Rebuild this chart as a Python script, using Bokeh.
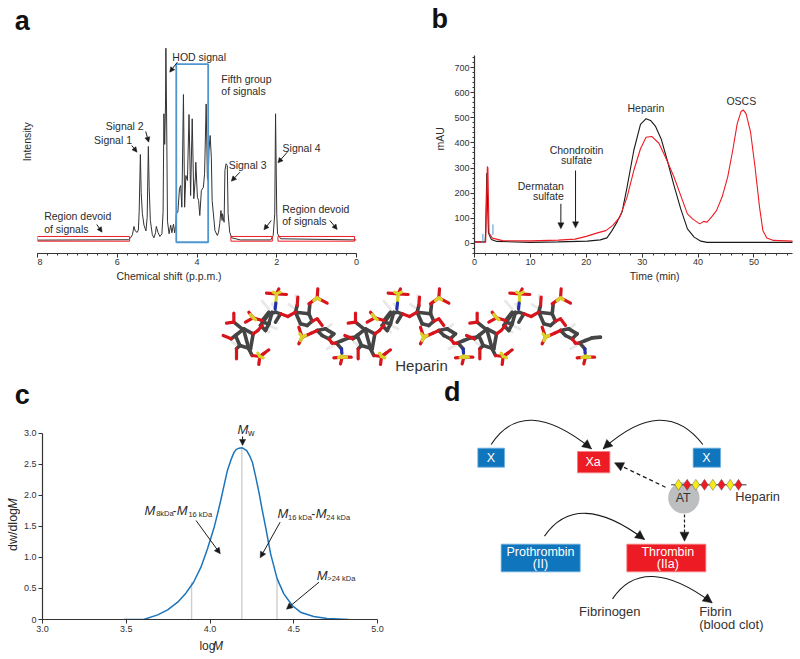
from bokeh.plotting import figure
from bokeh.layouts import column, row
from bokeh.models import (Range1d, Label, Arrow, NormalHead, SingleIntervalTicker, FixedTicker,
                          NumeralTickFormatter)
from bokeh.embed import file_html
from bokeh.resources import INLINE

FONT = "Liberation Sans"
INK = "#2b2b2b"
RED = "#ed1c24"
BLUE = "#0f75bc"

# ---- panel a: NMR spectrum
nmr_ppm = [8.00, 5.72, 5.66, 5.62, 5.58, 5.55, 5.50, 5.47, 5.45, 5.42, 5.40, 5.37, 5.33, 5.28, 5.25, 5.22, 5.20,
           5.17, 5.12, 5.08, 5.04, 5.02, 4.98, 4.93, 4.88, 4.85, 4.83, 4.81, 4.79, 4.78, 4.76, 4.74, 4.70, 4.66,
           4.63, 4.59, 4.56, 4.53, 4.52, 4.48, 4.44, 4.41, 4.38, 4.34, 4.31, 4.28, 4.24, 4.20, 4.16, 4.12, 4.08,
           4.04, 4.03, 3.99, 3.96, 3.93, 3.89, 3.84, 3.81, 3.77, 3.74, 3.72, 3.70, 3.67, 3.64, 3.62, 3.55, 3.49,
           3.46, 3.43, 3.40, 3.37, 3.36, 3.32, 3.30, 3.27, 3.24, 3.22, 3.18, 3.13, 2.91, 2.15, 2.09, 2.05, 2.03,
           2.00, 1.98, 1.90, 0.00]
nmr_int = [0.2, 0.4, 1.5, 3.0, 7.3, 5.0, 4.2, 5.5, 15, 44.7, 25, 14, 8, 5, 12, 48.9, 28,
           10.4, 3.0, 1.4, 4.0, 7.3, 4.3, 2.1, 3.5, 15, 65.9, 50, 70, 100, 60, 10, 3.5, 8,
           4.0, 8.5, 4.0, 8.0, 13.9, 14.7, 26.9, 28.6, 17.3, 75.9, 17.3, 33.8, 31.2, 65.5, 23.4, 63.3, 21.7,
           32.9, 40.7, 22.5, 20.8, 13.0, 26.0, 27.7, 34.7, 71.0, 33.0, 31.2, 46.8, 54.6, 43.0, 20.8, 5.2, 2.6,
           4.3, 8.7, 15.6, 10.4, 13.9, 9.5, 36.4, 39.9, 39.0, 13.9, 4.3, 1.4, 0.3, 0.3, 2.6, 13.9, 65.9,
           13.9, 3.5, 0.9, 0.3]
region_left = [8.00, 3.15, 1.97]
region_right = [5.69, 2.11, 0.05]
region_top = [2.1, 2.1, 2.1]
region_bottom = [-0.35, -0.35, -0.35]
group_left, group_right, group_top, group_bottom = [4.52], [3.72], [91.7], [-0.9]

# ---- panel b: chromatograms
black_t = [0, 1.9, 2.0, 2.2, 2.35, 2.5, 3, 4, 10, 15, 20.2, 22.5, 23.7, 24.6, 25.5, 26.4, 27.3, 28.5, 29.7, 30.7,
           31.5, 32.4, 33.4, 34.5, 35.7, 36.9, 38.1, 39.3, 40.5, 41.6, 57]
black_mau = [5, 5, 50, 280, 150, 40, 15, 7, 3, 5, 8, 13, 21, 50, 84, 124, 224, 370, 474, 497,
             490, 466, 416, 330, 230, 137, 57, 24, 8, 3, 3]
red_t = [0, 2.0, 2.1, 2.3, 2.4, 2.6, 3.2, 5, 10, 15, 18, 20, 22, 23.5, 24.7, 26, 27.3, 28.5, 29.7, 30.7, 31.7, 33,
         34.3, 35.7, 37, 38.1, 39, 40.3, 41, 41.6, 42.4, 43.3, 44.3, 45.3, 46.2, 47, 47.7, 48.1, 48.6, 49.4, 50.2,
         51, 51.6, 52.3, 53.5, 57]
red_mau = [4, 4, 100, 306, 300, 40, 20, 10, 9, 12, 16, 27, 41, 50, 70, 104, 184, 290, 377, 423, 426, 399,
           337, 264, 184, 117, 97, 77, 87, 84, 104, 130, 184, 264, 370, 476, 526, 532, 516, 443, 303,
           144, 51, 21, 11, 8]
inject_t = [1.5, 3.3]
inject_low = [0, 33]
inject_high = [37, 75]

# ---- panel c: molecular weight distribution
logm = [3.486, 3.608, 3.688, 3.747, 3.807, 3.856, 3.902, 3.946, 3.985, 4.025, 4.045, 4.064, 4.084, 4.104, 4.125, 4.144,
        4.158, 4.173, 4.193, 4.219, 4.236, 4.253, 4.272, 4.292, 4.312, 4.332, 4.362, 4.401, 4.441, 4.491, 4.540,
        4.619, 4.699, 4.828]
dw = [0, 0.005, 0.075, 0.156, 0.279, 0.424, 0.60, 0.843, 1.138, 1.487, 1.70, 1.916, 2.16, 2.40, 2.57, 2.695,
      2.74, 2.759, 2.764, 2.72, 2.64, 2.533, 2.31, 2.05, 1.76, 1.487, 1.057, 0.655, 0.413, 0.225, 0.118,
      0.048, 0.016, 0]
cut_x = [3.89, 4.19, 4.40]
cut_y = [0.60, 2.76, 0.65]

# ---- molecule: sticks of one repeating unit, and where the units sit
unit_shift = [0, 365, 730]
stick_grey = [(105, 165, 130, 145), (130, 145, 158, 160), (158, 160, 150, 205), (150, 205, 118, 195), (118, 195, 105, 165),
              (100, 125, 125, 145), (108, 205, 118, 195), (92, 175, 105, 165), (145, 205, 155, 225), (130, 150, 145, 205),
              (180, 135, 205, 100), (205, 100, 225, 95), (225, 95, 240, 100), (180, 135, 195, 150),
              (185, 120, 205, 95), (215, 95, 205, 130), (205, 130, 185, 125), (195, 150, 205, 130), (240, 100, 225, 125),
              (285, 95, 325, 100), (325, 100, 335, 122), (335, 122, 320, 135), (320, 135, 300, 130), (300, 130, 285, 95),
              (290, 75, 285, 95), (325, 100, 328, 72), (350, 150, 375, 145), (375, 145, 400, 160), (400, 160, 385, 175),
              (385, 175, 365, 165), (365, 165, 350, 150), (405, 188, 425, 180), (425, 180, 445, 172), (410, 190, 423, 205),
              (445, 172, 470, 170)]
stick_white = [(205, 135, 228, 145), (190, 140, 205, 155), (185, 62, 205, 85), (215, 70, 228, 90), (285, 45, 290, 60),
               (380, 205, 400, 195), (375, 145, 392, 132), (95, 185, 110, 195), (265, 72, 285, 85)]
stick_red = [(100, 98, 100, 125), (78, 128, 100, 125), (68, 165, 92, 175), (108, 235, 108, 205), (158, 160, 172, 150),
             (172, 150, 185, 135), (178, 228, 205, 208), (178, 228, 192, 218), (178, 228, 175, 252), (155, 225, 178, 228),
             (198, 38, 228, 40), (235, 25, 228, 40), (258, 42, 228, 40), (145, 95, 158, 112), (135, 125, 158, 112),
             (158, 112, 185, 120), (240, 100, 262, 108), (262, 108, 285, 95), (290, 75, 292, 50), (350, 52, 352, 25),
             (350, 52, 380, 68), (350, 52, 325, 70), (305, 170, 295, 140), (305, 170, 332, 158), (305, 170, 295, 190),
             (332, 158, 350, 150), (335, 122, 350, 115), (350, 115, 365, 135), (385, 175, 395, 188), (395, 188, 405, 188),
             (425, 230, 400, 232), (425, 230, 452, 230), (425, 230, 420, 250)]
stick_yellow = [(228, 40, 226, 68), (228, 40, 218, 35), (228, 40, 238, 35), (178, 228, 172, 218), (178, 228, 188, 232),
                (158, 112, 150, 102), (158, 112, 165, 118), (350, 52, 340, 60), (350, 52, 358, 58), (305, 170, 298, 160),
                (305, 170, 315, 165), (305, 170, 300, 180), (425, 230, 414, 231), (425, 230, 438, 230), (425, 230, 424, 218)]
stick_blue = [(226, 68, 224, 85), (423, 205, 424, 218)]

# ---- panel d: pathway
blue_boxes = [(142, 233, 222, 290), (788, 233, 870, 290), (212, 521, 449, 604)]
red_boxes = [(441, 243, 538, 307), (589, 521, 826, 604)]
curves = [(182, 222, 280, 70, 483, 235), (817, 222, 700, 70, 518, 235),
          (342, 497, 440, 355, 642, 507), (546, 685, 640, 545, 845, 697)]
beads_x = [744, 770, 796, 822, 847, 873, 899, 924]
beads_color = ["#f6eb14", RED, "#f6eb14", RED, "#f6eb14", RED, "#f6eb14", RED]


def blank(p):
    p.outline_line_color = None
    p.xgrid.visible = False
    p.ygrid.visible = False
    p.background_fill_color = None
    p.border_fill_color = None


def style_axis(ax, size="9px"):
    ax.axis_line_color = "#333333"
    ax.axis_line_width = 1.2
    ax.major_tick_line_color = "#333333"
    ax.minor_tick_line_color = "#333333"
    ax.major_tick_in = 0
    ax.minor_tick_in = 0
    ax.major_tick_out = 4
    ax.minor_tick_out = 2
    ax.major_label_text_font = FONT
    ax.major_label_text_font_size = size
    ax.major_label_text_color = "#333333"
    ax.major_label_standoff = 1


def panel(width, height, left, right, bottom, x_range, y_range):
    p = figure(width=width, height=height, x_range=Range1d(*x_range), y_range=Range1d(*y_range),
               output_backend="svg", toolbar_location=None,
               min_border_left=left, min_border_right=right, min_border_top=0, min_border_bottom=bottom)
    blank(p)
    return p


def strip(x0, x1, y0, y1):
    """A text-only figure that covers one part of the page, in page pixels."""
    p = figure(width=x1 - x0, height=y1 - y0, x_range=Range1d(x0, x1), y_range=Range1d(y1, y0),
               output_backend="svg", toolbar_location=None, min_border=0,
               x_axis_location=None, y_axis_location=None)
    blank(p)
    return p


def label(p, conv, zx, zy, text, size=10.5, align="left", color=INK, style="normal", angle=0):
    x, y = conv(zx, zy)
    p.add_layout(Label(x=x, y=y, text=text, text_font=FONT, text_font_size=f"{size}px", text_color=color,
                       text_font_style=style, text_align=align, text_baseline="middle", angle=angle,
                       angle_units="deg", level="overlay"))


def arrow(p, conv, a, b, size=6, dash="solid", width=1.0):
    x0, y0 = conv(*a)
    x1, y1 = conv(*b)
    p.add_layout(Arrow(end=NormalHead(size=size, fill_color="#1a1a1a", line_color="#1a1a1a", line_width=0.5),
                       x_start=x0, y_start=y0, x_end=x1, y_end=y1, line_color="#1a1a1a", line_width=width,
                       line_dash=dash))


page = lambda x, y: (x, y)
LETTER = dict(size=27, align="center", color="#111111", style="bold")

# ================= a
conv_a = lambda zx, zy: ((1068 - zx) / 119.75, (720 - zy) / 5.77)
pa = panel(363, 268, 0, 44, 15, (8, 0), (-6.76, 124.8))
pa.yaxis.visible = False
style_axis(pa.xaxis[0])
pa.xaxis[0].ticker = SingleIntervalTicker(interval=2, num_minor_ticks=8)
pa.line(nmr_ppm, nmr_int, line_color="#333333", line_width=1)
pa.quad(left=region_left, right=region_right, top=region_top, bottom=region_bottom,
        fill_color=None, line_color=RED, line_width=1)
pa.quad(left=group_left, right=group_right, top=group_top, bottom=group_bottom,
        fill_color=None, line_color="#4f97cf", line_width=1.8)
for zx, zy, t in [(515, 168, "HOD signal"), (662, 236, "Fifth group"), (662, 272, "of signals"),
                  (315, 376, "Signal 2"), (280, 418, "Signal 1"), (846, 442, "Signal 4"), (684, 492, "Signal 3"),
                  (130, 647, "Region devoid"), (130, 684, "of signals"), (845, 624, "Region devoid"),
                  (845, 660, "of signals")]:
    label(pa, conv_a, zx, zy, t)
for a, b in [((530, 185), (507, 215)), ((435, 393), (444, 425)), ((393, 435), (409, 455)), ((860, 455), (832, 487)),
             ((718, 515), (692, 542)), ((812, 660), (790, 688)), ((288, 672), (304, 695)), ((988, 660), (1010, 687))]:
    arrow(pa, conv_a, a, b, size=5)
sa_left = strip(0, 37, 0, 285)
label(sa_left, page, 21.7, 20, "a", **LETTER)
label(sa_left, page, 26, 141.3, "Intensity", angle=90, align="center")
sa_bot = strip(37, 400, 268, 285)
label(sa_bot, page, 186.7, 275, "Chemical shift (p.p.m.)", align="center")

# ================= b
conv_b = lambda zx, zy: ((zx - 162) / 16.76, (728 - zy) / 0.7514)
pb = panel(350, 268, 24, 8, 15, (0, 56.9), (-41.3, 968.9))
for ax in (pb.xaxis[0], pb.yaxis[0]):
    style_axis(ax)
pb.xaxis[0].ticker = SingleIntervalTicker(interval=10, num_minor_ticks=5)
pb.yaxis[0].ticker = SingleIntervalTicker(interval=100, num_minor_ticks=5)
pb.yaxis[0].bounds = (-41, 749)
pb.line(black_t, black_mau, line_color="#1a1a1a", line_width=1.1)
pb.line(red_t, red_mau, line_color=RED, line_width=1.1)
pb.segment(inject_t, inject_low, inject_t, inject_high, line_color="#4f97cf", line_width=1)
label(pb, conv_b, 676, 322, "Heparin", align="center")
label(pb, conv_b, 962, 301, "OSCS", align="center")
label(pb, conv_b, 468, 449, "Chondroitin", align="center")
label(pb, conv_b, 468, 480, "sulfate", align="center")
label(pb, conv_b, 430, 557, "Dermatan", align="right")
label(pb, conv_b, 430, 588, "sulfate", align="right")
arrow(pb, conv_b, (421, 610), (421, 685), size=6)
arrow(pb, conv_b, (465, 510), (465, 682), size=6)
sb_left = strip(400, 450, 0, 285)
label(sb_left, page, 439.3, 18.3, "b", **LETTER)
label(sb_left, page, 439, 138.3, "mAU", angle=90, align="center")
sb_bot = strip(450, 800, 268, 285)
label(sb_bot, page, 648.3, 275, "Time (min)", align="center")

# ================= molecule
pm = figure(width=800, height=90, x_range=Range1d(-600, 1800), y_range=Range1d(285, 15),
            output_backend="svg", toolbar_location=None, min_border=0,
            x_axis_location=None, y_axis_location=None)
blank(pm)
for sticks, colr, w in [(stick_white, "#e8e8e8", 2.8), (stick_grey, "#454545", 3.6), (stick_red, "#d8141c", 3.2),
                        (stick_yellow, "#d8d226", 3.2), (stick_blue, "#2030b0", 3.2)]:
    for dx in unit_shift:
        pm.segment([s[0] + dx for s in sticks], [s[1] for s in sticks], [s[2] + dx for s in sticks],
                   [s[3] for s in sticks], line_color=colr, line_width=w, line_cap="round")
label(pm, page, 663, 255, "Heparin", size=15, align="center", color="#333333")

# ================= c
conv_c = lambda zx, zy: (3 + (zx - 123) / 504.0, (747 - zy) / 186.3)
pc = panel(380, 217, 21, 23, 18, (3, 5), (0, 3.2045))
for ax in (pc.xaxis[0], pc.yaxis[0]):
    style_axis(ax)
    ax.minor_tick_out = 0
    ax.major_label_standoff = 2
    ax.formatter = NumeralTickFormatter(format="0.0")
pc.xaxis[0].ticker = FixedTicker(ticks=[3, 3.5, 4, 4.5, 5])
pc.yaxis[0].ticker = FixedTicker(ticks=[0, 0.5, 1, 1.5, 2, 2.5, 3])
pc.yaxis[0].major_label_overrides = {0: "0"}
pc.yaxis[0].bounds = (0, 3)
pc.segment(cut_x, [0, 0, 0], cut_x, cut_y, line_color="#cfcfcf", line_width=1.4)
pc.line(logm, dw, line_color="#1a75bc", line_width=1.5)
for zx, zy, t, size, st in [(710, 178, "M", 13, "italic"), (741, 188, "w", 9, "normal"),
                            (430, 420, "M", 13, "italic"), (465, 430, "8kDa", 7.5, "normal"), (514, 420, "-", 12, "normal"),
                            (527, 420, "M", 13, "italic"), (562, 431, "16 kDa", 7.5, "normal"),
                            (830, 430, "M", 13, "italic"), (862, 441, "16 kDa", 7.5, "normal"), (932, 430, "-", 12, "normal"),
                            (945, 430, "M", 13, "italic"), (977, 441, "24 kDa", 7.5, "normal"),
                            (948, 615, "M", 13, "italic"), (980, 625, ">24 kDa", 7.5, "normal")]:
    label(pc, conv_c, zx, zy, t, size=size, style=st)
for a, b in [((725, 198), (725, 225)), ((585, 450), (658, 550)), ((838, 455), (778, 562)), ((955, 635), (857, 716))]:
    arrow(pc, conv_c, a, b, size=6)
sc_top = strip(0, 400, 375, 420)
label(sc_top, page, 21.7, 394, "c", **LETTER)
sc_left = strip(0, 20, 420, 659)
label(sc_left, page, 12, 529, "dw/dlog", size=12.5, angle=90, align="center")
label(sc_left, page, 12, 503, "M", size=12.5, angle=90, align="center", style="italic")
sc_bot = strip(20, 400, 637, 659)
label(sc_bot, page, 198, 645.7, "log", size=12)
label(sc_bot, page, 213.3, 645.7, "M", size=12, style="italic")

# ================= d
pd_ = figure(width=400, height=284, x_range=Range1d(-90, 1110), y_range=Range1d(867, 15),
             output_backend="svg", toolbar_location=None, min_border=0,
             x_axis_location=None, y_axis_location=None)
blank(pd_)
pd_.quad(left=[b[0] for b in blue_boxes], top=[b[1] for b in blue_boxes], right=[b[2] for b in blue_boxes],
         bottom=[b[3] for b in blue_boxes], fill_color=BLUE, line_color="#6aaedd", line_width=0.8)
pd_.quad(left=[b[0] for b in red_boxes], top=[b[1] for b in red_boxes], right=[b[2] for b in red_boxes],
         bottom=[b[3] for b in red_boxes], fill_color=RED, line_color="#f47c80", line_width=0.8)
pd_.quadratic(x0=[c[0] for c in curves], y0=[c[1] for c in curves], cx=[c[2] for c in curves], cy=[c[3] for c in curves],
              x1=[c[4] for c in curves], y1=[c[5] for c in curves], line_color="#1a1a1a", line_width=1.1)
for c in curves:
    x = c[4] - (c[4] - c[2]) * 0.1
    y = c[5] - (c[5] - c[3]) * 0.1
    arrow(pd_, page, (x, y), (c[4], c[5]), size=9, width=0.5)
arrow(pd_, page, (705, 350), (552, 277), size=9, dash="4 3", width=1.2)
arrow(pd_, page, (762, 432), (762, 512), size=9, dash="3 2", width=1.2)
pd_.circle(x=[760], y=[382], radius=47, fill_color="#bcbec0", line_color=None)
pd_.line([722, 948], [343, 343], line_color="#333333", line_width=1)
pd_.scatter(beads_x, [343] * len(beads_x), marker="diamond", size=11, fill_color=beads_color,
            line_color="#444444", line_width=0.4)
for zx, zy, t in [(181, 262, "X"), (488, 275, "Xa"), (828, 262, "X"), (330, 544, "Prothrombin"), (330, 580, "(II)"),
                  (712, 544, "Thrombin"), (712, 580, "(IIa)")]:
    label(pd_, page, zx, zy, t, size=12.5, align="center", color="white")
label(pd_, page, 758, 382, "AT", size=12.5, align="center", color="#333333")
label(pd_, page, 914, 377, "Heparin", size=12.8, color="#333333")
label(pd_, page, 538, 724, "Fibrinogen", size=13, align="center", color="#333333")
label(pd_, page, 806, 722, "Fibrin", size=13, color="#333333")
label(pd_, page, 806, 763, "(blood clot)", size=13, color="#333333")
label(pd_, page, 65, 65, "d", **LETTER)

top_row = row(row(sa_left, column(pa, sa_bot, spacing=0), spacing=0),
              row(sb_left, column(pb, sb_bot, spacing=0), spacing=0), spacing=0)
panel_c = column(sc_top, row(sc_left, column(pc, sc_bot, spacing=0), spacing=0), spacing=0)
bottom_row = row(panel_c, pd_, spacing=0)
layout = column(top_row, pm, bottom_row, spacing=0)
open("out.html", "w").write(file_html(layout, INLINE))
